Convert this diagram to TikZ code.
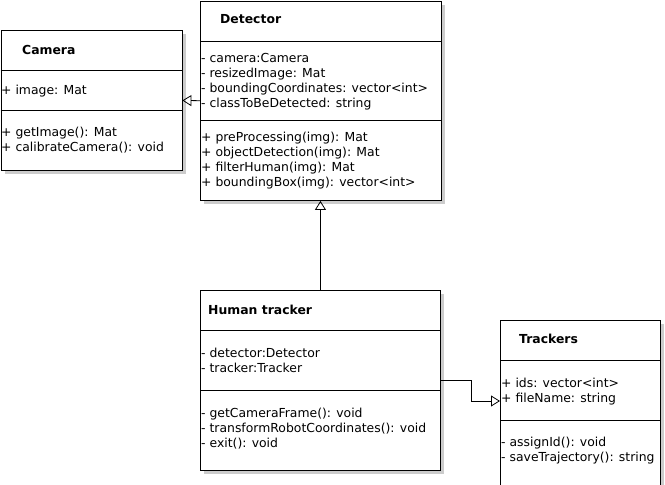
\documentclass[tikz,border=0pt]{standalone}
\usepackage{fontspec}
\setmainfont{DejaVu Sans}
\usetikzlibrary{arrows.meta,shadows}

\begin{document}
\begin{tikzpicture}[x=1pt,y=-1pt,
      class_box/.style={
         draw=black,
         fill=white,
         anchor=north west,
         inner sep=0pt,
         line width=0.9pt,
         drop shadow={shadow xshift=4pt,shadow yshift=-4pt,fill=black!20,opacity=1}},
      class_title/.style={
         anchor=base west,
         inner sep=0pt,
         font=\fontsize{12.4}{15}\selectfont\bfseries},
      member/.style={
         anchor=base west,
         inner sep=0pt,
         font=\fontsize{12.4}{15}\selectfont},
      arrow_inherit/.style={
         -{Triangle[open,length=9pt,width=11pt]},
         line width=0.8pt},
]
      \useasboundingbox (0,0) rectangle (665,485);

      %classes
      \node[class_box,minimum width=181pt,minimum height=140pt] (camera) at (0.5,30) {};
      \node[class_box,minimum width=241pt,minimum height=199.5pt] (detector) at (200,0.5) {};
      \node[class_box,minimum width=240pt,minimum height=180pt] (human) at (200,290) {};
      \node[class_box,minimum width=160pt,minimum height=168pt] (trackers) at (500,320) {};

      %compartments
      \foreach \n/\a/\b in {camera/40/80, detector/41/120, human/40/100, trackers/40/100} {
        \draw[line width=0.8pt] ([yshift=-\a pt]\n.north west) -- ([yshift=-\a pt]\n.north east);
        \draw[line width=0.8pt] ([yshift=-\b pt]\n.north west) -- ([yshift=-\b pt]\n.north east);
      }

      %camera
      \node[class_title] (camera-title) at (22,54.5) {Camera};
      \node[member] (camera-a0) at (1,94) {+ image: Mat};
      \foreach \t [count=\i from 0] in {+ getImage(): Mat, + calibrateCamera(): void}
        \node[member] (camera-m\i) at (1,136+15*\i) {\t};

      %detector
      \node[class_title] (detector-title) at (220,23.5) {Detector};
      \foreach \t [count=\i from 0] in {- camera:Camera, - resizedImage: Mat,
          - boundingCoordinates: vector<int>, - classToBeDetected: string}
        \node[member] (detector-a\i) at (201,62+15*\i) {\t};
      \foreach \t [count=\i from 0] in {+ preProcessing(img): Mat, + objectDetection(img): Mat,
          + filterHuman(img): Mat, + boundingBox(img): vector<int>}
        \node[member] (detector-m\i) at (201,141+15*\i) {\t};

      %human tracker
      \node[class_title] (human-title) at (208,314.5) {Human tracker};
      \foreach \t [count=\i from 0] in {- detector:Detector, - tracker:Tracker}
        \node[member] (human-a\i) at (201,357+15*\i) {\t};
      \foreach \t [count=\i from 0] in {- getCameraFrame(): void,
          - transformRobotCoordinates(): void, - exit(): void}
        \node[member] (human-m\i) at (201,417+15*\i) {\t};

      %trackers
      \node[class_title] (trackers-title) at (519,343.5) {Trackers};
      \foreach \t [count=\i from 0] in {+ ids: vector<int>, + fileName: string}
        \node[member] (trackers-a\i) at (501,387+15*\i) {\t};
      \foreach \t [count=\i from 0] in {- assignId(): void, - saveTrajectory(): string}
        \node[member] (trackers-m\i) at (501,446+15*\i) {\t};

      %relations
      \coordinate (trackers-in) at (500,401);
      \draw[arrow_inherit] (detector.west) -- (camera.east);
      \draw[arrow_inherit] (human.north) -- (human.north |- detector.south);
      \draw[arrow_inherit] (human.east) -- ++(30,0) |- (trackers-in);

\end{tikzpicture}
\end{document}
